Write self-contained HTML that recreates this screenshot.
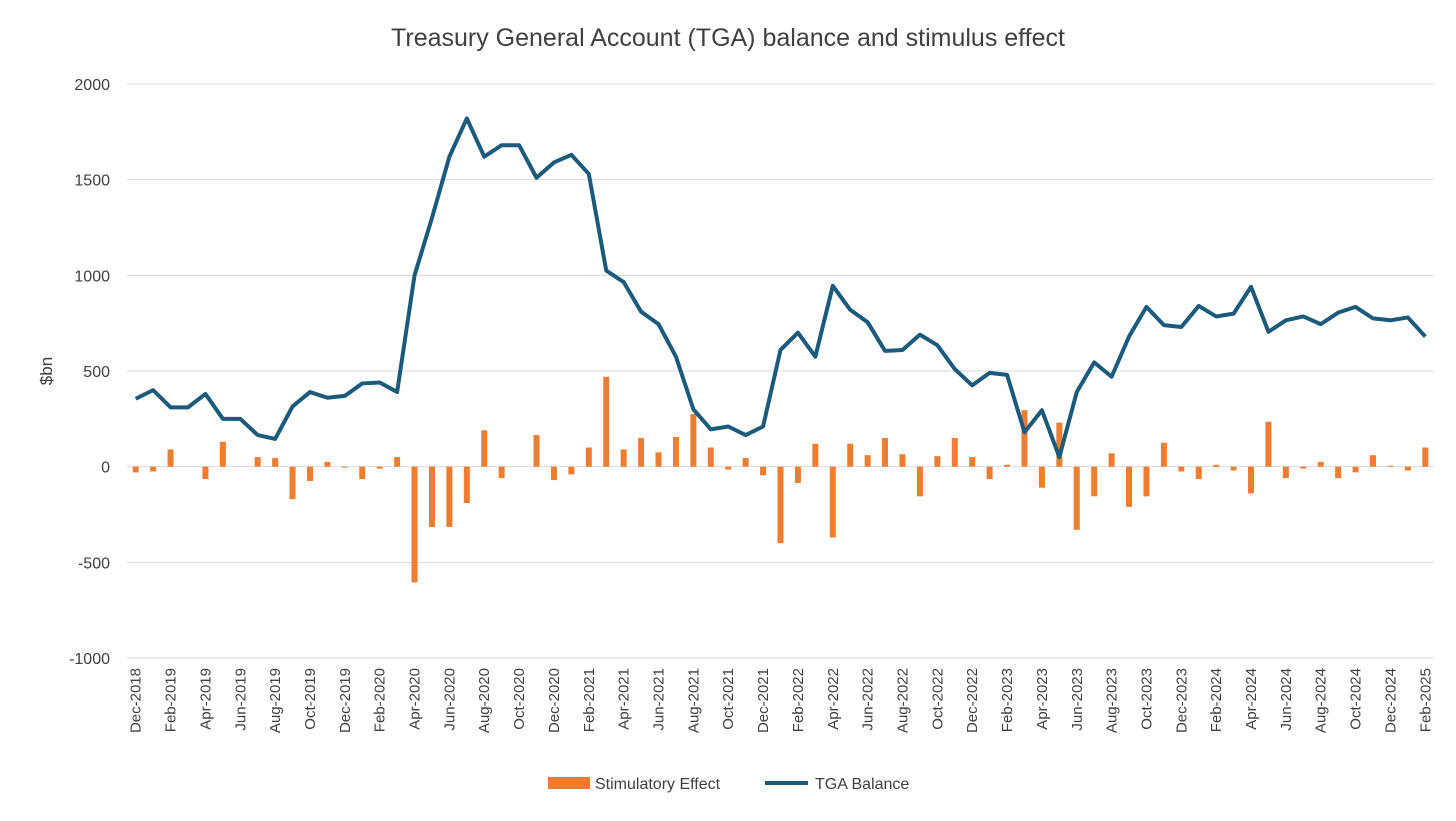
<!DOCTYPE html>
<html><head><meta charset="utf-8"><style>
body{margin:0;background:#fff;font-family:"Liberation Sans",sans-serif;}
svg text{font-family:"Liberation Sans",sans-serif;fill:#404040;}
</style></head><body>
<svg id="chart" width="1456" height="816"></svg>
<script>
const months=["Dec-2018","Jan-2019","Feb-2019","Mar-2019","Apr-2019","May-2019","Jun-2019","Jul-2019","Aug-2019","Sep-2019","Oct-2019","Nov-2019","Dec-2019","Jan-2020","Feb-2020","Mar-2020","Apr-2020","May-2020","Jun-2020","Jul-2020","Aug-2020","Sep-2020","Oct-2020","Nov-2020","Dec-2020","Jan-2021","Feb-2021","Mar-2021","Apr-2021","May-2021","Jun-2021","Jul-2021","Aug-2021","Sep-2021","Oct-2021","Nov-2021","Dec-2021","Jan-2022","Feb-2022","Mar-2022","Apr-2022","May-2022","Jun-2022","Jul-2022","Aug-2022","Sep-2022","Oct-2022","Nov-2022","Dec-2022","Jan-2023","Feb-2023","Mar-2023","Apr-2023","May-2023","Jun-2023","Jul-2023","Aug-2023","Sep-2023","Oct-2023","Nov-2023","Dec-2023","Jan-2024","Feb-2024","Mar-2024","Apr-2024","May-2024","Jun-2024","Jul-2024","Aug-2024","Sep-2024","Oct-2024","Nov-2024","Dec-2024","Jan-2025","Feb-2025"];
const tga=[355,400,310,310,380,250,250,165,145,315,390,360,370,435,440,390,1000,1300,1620,1820,1620,1680,1680,1510,1590,1630,1530,1025,965,810,745,575,300,195,210,165,210,610,700,575,945,820,755,605,610,690,635,510,425,490,480,180,295,50,390,545,470,680,835,740,730,840,785,800,940,705,765,785,745,805,835,775,765,780,680];
const stim=[-30,-25,90,0,-65,130,0,50,45,-170,-75,25,-5,-65,-10,50,-605,-315,-315,-190,190,-60,0,165,-70,-40,100,470,90,150,75,155,275,100,-15,45,-45,-400,-85,120,-370,120,60,150,65,-155,55,150,50,-65,10,295,-110,230,-330,-155,70,-210,-155,125,-25,-65,10,-20,-140,235,-60,-10,25,-60,-30,60,5,-20,100];
const yTicks=[2000,1500,1000,500,0,-500,-1000];
const NS="http://www.w3.org/2000/svg",svg=document.getElementById('chart');
const L=127,R=1434,T=84,B=658;
const y=v=>T+(2000-v)/3000*(B-T);
const step=(R-L)/months.length;
const x=i=>L+step*(i+0.5);
function mk(t,a,p){const e=document.createElementNS(NS,t);for(const k in a)e.setAttribute(k,a[k]);(p||svg).appendChild(e);return e;}
let t=mk('text',{x:728,y:46,'text-anchor':'middle','font-size':25});t.textContent="Treasury General Account (TGA) balance and stimulus effect";


yTicks.forEach(v=>{
 const g=mk('line',{x1:L,x2:R,y1:y(v),y2:y(v),stroke:'#d9d9d9','stroke-width':1});
 
 
 const lb=mk('text',{x:110,y:y(v)+6,'text-anchor':'end','font-size':16});lb.textContent=v;
 
 
});
t=mk('text',{x:0,y:0,'font-size':17,'text-anchor':'middle',transform:'translate(52,371) rotate(-90)'});t.textContent="$bn";


stim.forEach((v,i)=>{
 const r=mk('rect',{x:x(i)-3,y:Math.min(y(v),y(0)),width:6,height:Math.abs(y(v)-y(0)),fill:'#ed7d31'});
 
 
});
const p=mk('polyline',{points:tga.map((v,i)=>x(i)+','+y(v)).join(' '),fill:'none',stroke:'#1b5a7a','stroke-width':4,'stroke-linejoin':'round'});


months.forEach((m,i)=>{if(i%2)return;
 const lb=mk('text',{x:0,y:0,'font-size':15,'text-anchor':'end',transform:`translate(${x(i)+5},668) rotate(-90)`});lb.textContent=m;
 
 
});
let g=mk('g',{});


mk('rect',{x:548,y:777,width:42,height:12,fill:'#ed7d31'},g);
t=mk('text',{x:595,y:789,'font-size':16},g);t.textContent="Stimulatory Effect";
mk('line',{x1:765,x2:808,y1:783,y2:783,stroke:'#1b5a7a','stroke-width':4},g);
t=mk('text',{x:815,y:789,'font-size':16},g);t.textContent="TGA Balance";
</script>
</body></html>
